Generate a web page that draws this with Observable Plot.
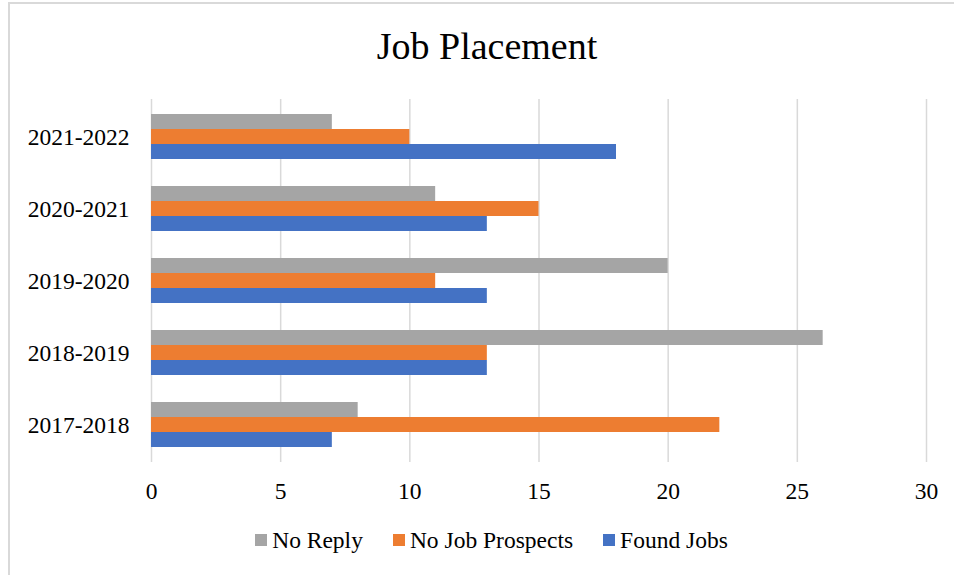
<!DOCTYPE html>
<html><head><meta charset="utf-8">
<script src="https://cdn.jsdelivr.net/npm/d3@7"></script>
<script src="https://cdn.jsdelivr.net/npm/@observablehq/plot@0.6"></script>
<style>
body{margin:0;background:#fff;}
#wrap{position:relative;width:954px;height:575px;overflow:hidden;font-family:"Liberation Serif","Times New Roman",serif;color:#000;}
#frame{position:absolute;left:8px;top:2px;width:960px;height:600px;border-left:2px solid #d9d9d9;border-top:2px solid #d9d9d9;pointer-events:none;}
#title{height:85px;box-sizing:border-box;padding-top:27px;padding-left:20px;text-align:center;font-size:38px;line-height:38px;}
#legend{height:65px;box-sizing:border-box;padding-top:18px;padding-left:29px;display:flex;justify-content:center;align-items:flex-start;font-size:23.5px;line-height:24px;}
.item{display:flex;align-items:center;margin:0 15px;}
.sw{width:12px;height:12px;margin-right:5px;}
svg{display:block;}
</style></head>
<body>
<div id="wrap">
<div id="frame"></div>
<div id="title">Job Placement</div>
<div id="chart"></div>
<div id="legend"></div>
</div>
<script>
const categories = ["2017-2018","2018-2019","2019-2020","2020-2021","2021-2022"];
const noReply = [8,26,20,11,7];
const noJobProspects = [22,13,11,15,10];
const foundJobs = [7,13,13,13,18];
const seriesNames = ["No Reply","No Job Prospects","Found Jobs"];
const seriesColors = ["#A5A5A5","#ED7D31","#4472C4"];
const xTicks = [0,5,10,15,20,25,30];

const seriesValues = [noReply, noJobProspects, foundJobs];
const rows = seriesNames.map((s, i) => categories.map((c, j) => ({series: s, category: c, value: seriesValues[i][j]})));

const barMarks = rows.map((data, i) => Plot.barX(data, {
  x: "value", y: "category", fill: seriesColors[i],
  insetTop: 15, insetBottom: 15, dy: (i - 1) * 15
}));

const chart = Plot.plot({
  width: 954,
  height: 425,
  marginLeft: 151,
  marginRight: 28,
  marginTop: 14,
  marginBottom: 48,
  style: {fontFamily: '"Liberation Serif","Times New Roman",serif', fontSize: "23.5px", color: "#000", background: "transparent"},
  x: {domain: [0, 30], ticks: xTicks, tickSize: 0, tickPadding: 20, label: null},
  y: {domain: categories.slice().reverse(), paddingInner: 0.38, paddingOuter: 0.19, tickSize: 0, tickPadding: 22, label: null},
  marks: [
    Plot.gridX(xTicks, {stroke: "#d9d9d9", strokeOpacity: 1, strokeWidth: 1.5}),
    ...barMarks
  ]
});
document.getElementById("chart").appendChild(chart);

const legend = document.getElementById("legend");
seriesNames.forEach((s, i) => {
  const item = document.createElement("div");
  item.className = "item";
  const sw = document.createElement("div");
  sw.className = "sw";
  sw.style.background = seriesColors[i];
  const t = document.createElement("span");
  t.textContent = s;
  item.appendChild(sw);
  item.appendChild(t);
  legend.appendChild(item);
});
</script>
</body></html>
